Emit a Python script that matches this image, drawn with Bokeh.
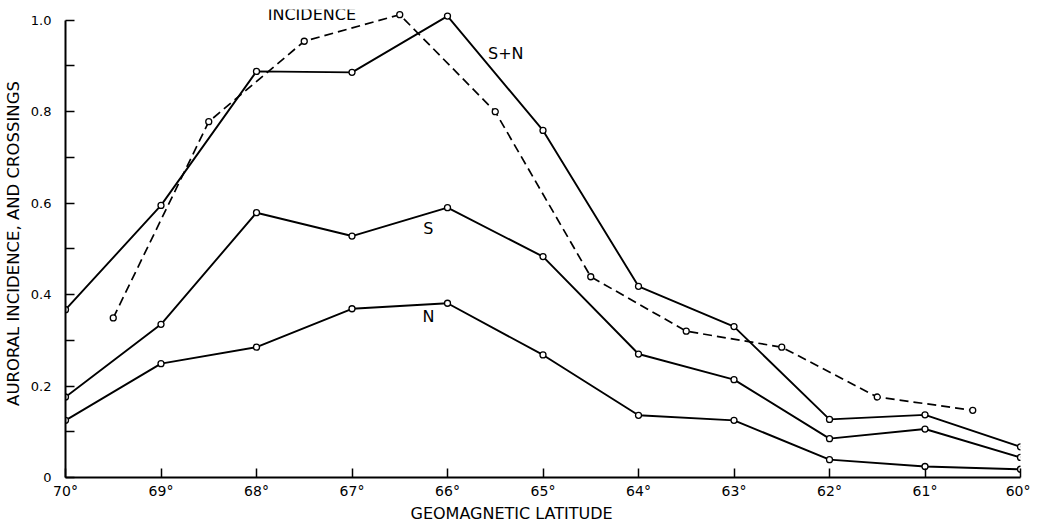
from bokeh.plotting import figure
from bokeh.models import Range1d, FixedTicker, Label, Title
from bokeh.embed import file_html
from bokeh.resources import INLINE

# ---- data ----
lat = [70, 69, 68, 67, 66, 65, 64, 63, 62, 61, 60]
s_plus_n = [0.367, 0.595, 0.888, 0.886, 1.009, 0.759, 0.418, 0.330, 0.127, 0.137, 0.067]
s_vals = [0.176, 0.335, 0.579, 0.528, 0.590, 0.483, 0.270, 0.214, 0.085, 0.106, 0.044]
n_vals = [0.125, 0.249, 0.285, 0.369, 0.381, 0.268, 0.136, 0.125, 0.039, 0.024, 0.018]

inc_lat = [69.5, 68.5, 67.5, 66.5, 65.5, 64.5, 63.5, 62.5, 61.5, 60.5]
incidence = [0.349, 0.778, 0.954, 1.012, 0.800, 0.439, 0.320, 0.285, 0.176, 0.147]

x_ticks = [70, 69, 68, 67, 66, 65, 64, 63, 62, 61, 60]
x_tick_labels = ["70°", "69°", "68°", "67°", "66°", "65°", "64°", "63°", "62°", "61°", "60°"]
y_ticks = [0, 0.2, 0.4, 0.6, 0.8, 1.0]
y_tick_labels = ["0", "0.2", "0.4", "0.6", "0.8", "1.0"]
y_minor = [0.1, 0.3, 0.5, 0.7, 0.9]

FONT = "DejaVu Sans"

p = figure(frame_width=955, frame_height=468,
           x_range=Range1d(70, 60), y_range=Range1d(0, 1.0234),
           output_backend="svg", toolbar_location=None,
           min_border_left=60, min_border_top=9, min_border_right=10,
           min_border_bottom=6)
p.outline_line_color = None
p.xgrid.visible = False
p.ygrid.visible = False
p.background_fill_color = "white"
p.border_fill_color = "white"

# axes
p.xaxis.ticker = FixedTicker(ticks=x_ticks)
p.xaxis.major_label_overrides = {t: l for t, l in zip(x_ticks, x_tick_labels)}
p.xaxis.bounds = (60, 70)
p.yaxis.ticker = FixedTicker(ticks=y_ticks, minor_ticks=y_minor)
p.yaxis.major_label_overrides = {t: l for t, l in zip(y_ticks, y_tick_labels)}
p.yaxis.bounds = (0, 1.0)

for ax in (p.xaxis, p.yaxis):
    ax.axis_line_color = "black"
    ax.axis_line_width = 2
    ax.major_tick_line_color = "black"
    ax.major_tick_line_width = 1.5
    ax.major_tick_in = 9
    ax.major_tick_out = 0
    ax.minor_tick_line_color = "black"
    ax.minor_tick_line_width = 1.5
    ax.minor_tick_in = 9
    ax.minor_tick_out = 0
    ax.major_label_text_color = "black"
    ax.major_label_text_font = FONT
    ax.axis_label_text_font = FONT
    ax.axis_label_text_font_style = "normal"
    ax.axis_label_text_color = "black"

p.xaxis.major_label_text_font_size = "14px"
p.xaxis.major_label_standoff = 5
p.yaxis.major_label_text_font_size = "13px"
p.yaxis.major_label_standoff = 14
p.yaxis.axis_label = "AURORAL INCIDENCE, AND CROSSINGS"
p.yaxis.axis_label_text_font_size = "16.5px"
p.yaxis.axis_label_standoff = 5

# x-axis title placed in the panel below, shifted left like the reference
p.add_layout(Title(text="GEOMAGNETIC LATITUDE", align="left", offset=345,
                   text_font=FONT, text_font_size="16px", text_font_style="normal",
                   text_color="black", standoff=0), "below")

# series
for vals in (s_plus_n, s_vals, n_vals):
    p.line(lat, vals, line_color="black", line_width=1.9)
    p.scatter(lat, vals, marker="circle", size=6, fill_color="white",
              line_color="black", line_width=1.3)

p.line(inc_lat, incidence, line_color="black", line_width=1.7, line_dash="9 5")
p.scatter(inc_lat, incidence, marker="circle", size=6, fill_color="white",
          line_color="black", line_width=1.3)

# annotations
def lab(x, y, t, size="16px"):
    p.add_layout(Label(x=x, y=y, text=t, text_align="center", text_baseline="middle",
                       text_font=FONT, text_font_size=size, text_color="black"))

lab(67.42, 1.012, "INCIDENCE")
lab(65.39, 0.927, "S+N")
lab(66.2, 0.545, "S")
lab(66.2, 0.352, "N")

open("out.html", "w").write(file_html(p, INLINE))
